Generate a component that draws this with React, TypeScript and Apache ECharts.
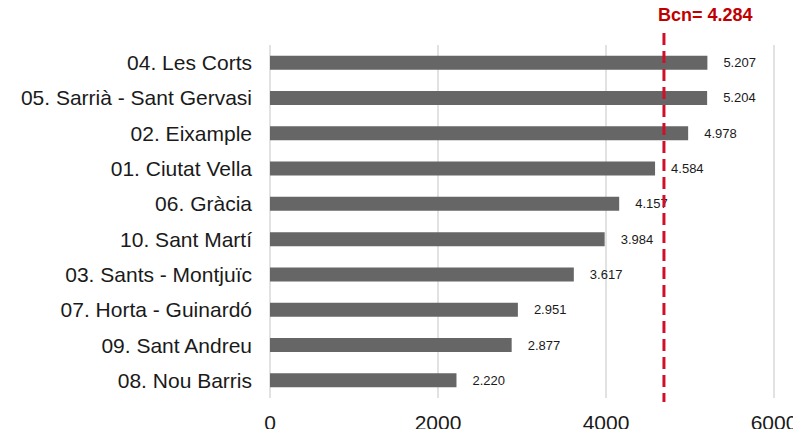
import React, { useEffect, useRef } from "react";
import * as echarts from "echarts";

const categories = [
  "04. Les Corts",
  "05. Sarrià - Sant Gervasi",
  "02. Eixample",
  "01. Ciutat Vella",
  "06. Gràcia",
  "10. Sant Martí",
  "03. Sants - Montjuïc",
  "07. Horta - Guinardó",
  "09. Sant Andreu",
  "08. Nou Barris",
];
const values = [5207, 5204, 4978, 4584, 4157, 3984, 3617, 2951, 2877, 2220];
const bcnLineValue = 4690;
const bcnLabel = "Bcn= 4.284";
const xTicks = [0, 2000, 4000, 6000];

const fmt = (v: number) => {
  const s = String(v);
  return s.length > 3 ? s.slice(0, s.length - 3) + "." + s.slice(s.length - 3) : s;
};

export default function App() {
  const ref = useRef<HTMLDivElement>(null);
  useEffect(() => {
    if (!ref.current) return;
    const chart = echarts.init(ref.current, null, { renderer: "svg" });
    const font = "'Liberation Sans', Arial, sans-serif";
    chart.setOption({
      animation: false,
      textStyle: { fontFamily: font },
      grid: { left: 270, right: 27, top: 45, bottom: 39, containLabel: false },
      xAxis: {
        type: "value",
        min: xTicks[0],
        max: xTicks[xTicks.length - 1],
        interval: 2000,
        axisLine: { show: false },
        axisTick: { show: false },
        axisLabel: {
          color: "#1a1a1a",
          fontSize: 21,
          margin: 14,
          fontFamily: font,
          formatter: (v: number) => String(v),
        },
        splitLine: { show: true, lineStyle: { color: "#d9d9d9", width: 1.5 } },
      },
      yAxis: {
        type: "category",
        data: categories,
        inverse: true,
        axisLine: { show: false },
        axisTick: { show: false },
        axisLabel: { color: "#1a1a1a", fontSize: 21, margin: 18, fontFamily: font },
      },
      series: [
        {
          type: "bar",
          data: values,
          barWidth: 14,
          itemStyle: { color: "#666666" },
          label: {
            show: true,
            position: "right",
            distance: 16,
            color: "#1a1a1a",
            fontSize: 13,
            fontFamily: font,
            formatter: (p: any) => fmt(p.value),
          },
        },
      ],
    });
    const x = chart.convertToPixel({ xAxisIndex: 0 }, bcnLineValue) as number;
    chart.setOption({
      graphic: [
        {
          type: "line",
          shape: { x1: x, y1: 33, x2: x, y2: 402 },
          style: { stroke: "#d0102a", lineWidth: 3, lineDash: [12, 6] },
          z: 100,
        },
        {
          type: "text",
          x: x - 6,
          y: 15,
          style: {
            text: bcnLabel,
            fill: "#c00000",
            fontFamily: font,
            fontWeight: "bold",
            fontSize: 18,
            textAlign: "left",
            textVerticalAlign: "middle",
          },
        },
      ],
    });
    return () => chart.dispose();
  }, []);
  return <div ref={ref} style={{ width: 801, height: 437, margin: -8 }} />;
}
